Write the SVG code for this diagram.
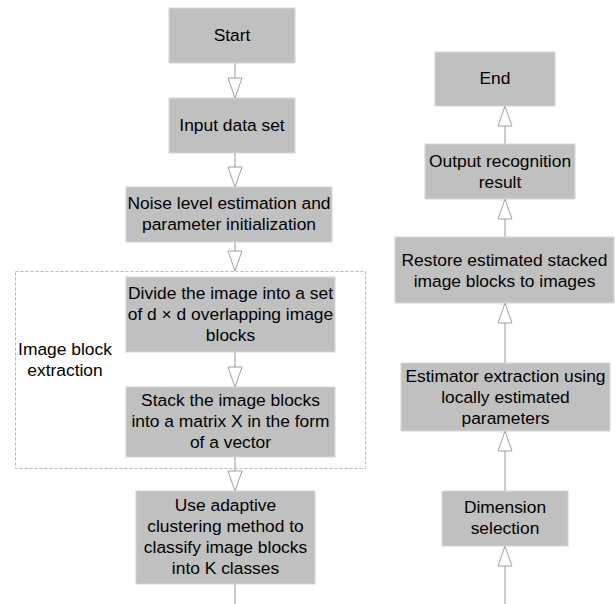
<svg xmlns="http://www.w3.org/2000/svg" width="615" height="604" viewBox="0 0 615 604">
  <style>
    .box { fill: #c0c0c0; stroke: #d6d6d6; stroke-width: 1; }
    .label { font-family: "Liberation Sans", Arial, sans-serif; font-size: 17.4px; fill: #000; text-anchor: middle; }
    .edge { fill: none; stroke: #a8a8a8; stroke-width: 1.2; }
    .group { fill: none; stroke: #b8b8b8; stroke-width: 1; stroke-dasharray: 3 2; }
  </style>
  <defs>
    <marker id="hollow" markerUnits="userSpaceOnUse" markerWidth="24" markerHeight="18" refX="21" refY="8" orient="auto" viewBox="0 0 24 18">
      <path d="M1,1 L21,8 L1,15 Z" fill="#ffffff" stroke="#a0a0a0" stroke-width="1"/>
    </marker>
  </defs>

  <rect id="background" x="0" y="0" width="615" height="604" fill="#ffffff"/>

  <!-- dashed container around the block extraction steps -->
  <g id="image-block-extraction">
    <rect class="group" x="15.5" y="271.5" width="350" height="197"/>
    <text class="label" x="65" y="355">Image block</text>
    <text class="label" x="65" y="376">extraction</text>
  </g>

  <!-- connectors -->
  <g id="connectors">
    <path class="edge" d="M235,63 V98" marker-end="url(#hollow)"/>
    <path class="edge" d="M235,153 V187" marker-end="url(#hollow)"/>
    <path class="edge" d="M235,242 V271" marker-end="url(#hollow)"/>
    <path class="edge" d="M235,352 V387" marker-end="url(#hollow)"/>
    <path class="edge" d="M235,457 V491" marker-end="url(#hollow)"/>
    <path class="edge" d="M235,584 V604"/>

    <path class="edge" d="M505,604 V546" marker-end="url(#hollow)"/>
    <path class="edge" d="M505,491 V431" marker-end="url(#hollow)"/>
    <path class="edge" d="M505,363 V303" marker-end="url(#hollow)"/>
    <path class="edge" d="M505,237 V199" marker-end="url(#hollow)"/>
    <path class="edge" d="M505,144 V106" marker-end="url(#hollow)"/>
  </g>

  <!-- left column -->
  <g id="start">
    <rect class="box" x="169" y="8" width="126" height="55"/>
    <text class="label" x="232" y="41">Start</text>
  </g>
  <g id="input-data-set">
    <rect class="box" x="169" y="98" width="126" height="55"/>
    <text class="label" x="232" y="131">Input data set</text>
  </g>
  <g id="noise-estimation">
    <rect class="box" x="126" y="187" width="206" height="55"/>
    <text class="label" x="229" y="209">Noise level estimation and</text>
    <text class="label" x="229" y="230">parameter initialization</text>
  </g>
  <g id="divide-image">
    <rect class="box" x="126" y="277" width="209" height="75"/>
    <text class="label" x="230.5" y="299">Divide the image into a set</text>
    <text class="label" x="230.5" y="320">of d × d overlapping image</text>
    <text class="label" x="230.5" y="341">blocks</text>
  </g>
  <g id="stack-blocks">
    <rect class="box" x="126" y="387" width="209" height="70"/>
    <text class="label" x="230.5" y="406">Stack the image blocks</text>
    <text class="label" x="230.5" y="427">into a matrix X in the form</text>
    <text class="label" x="230.5" y="448">of a vector</text>
  </g>
  <g id="adaptive-clustering">
    <rect class="box" x="136" y="491" width="179" height="93"/>
    <text class="label" x="225.5" y="511">Use adaptive</text>
    <text class="label" x="225.5" y="532">clustering method to</text>
    <text class="label" x="225.5" y="553">classify image blocks</text>
    <text class="label" x="225.5" y="574">into K classes</text>
  </g>

  <!-- right column -->
  <g id="end">
    <rect class="box" x="435" y="52" width="120" height="54"/>
    <text class="label" x="495" y="84">End</text>
  </g>
  <g id="output-result">
    <rect class="box" x="425" y="144" width="150" height="55"/>
    <text class="label" x="500" y="167">Output recognition</text>
    <text class="label" x="500" y="188">result</text>
  </g>
  <g id="restore-images">
    <rect class="box" x="395" y="237" width="219" height="66"/>
    <text class="label" x="504.5" y="266">Restore estimated stacked</text>
    <text class="label" x="504.5" y="287">image blocks to images</text>
  </g>
  <g id="estimator-extraction">
    <rect class="box" x="401" y="363" width="209" height="68"/>
    <text class="label" x="505.5" y="382">Estimator extraction using</text>
    <text class="label" x="505.5" y="403">locally estimated</text>
    <text class="label" x="505.5" y="424">parameters</text>
  </g>
  <g id="dimension-selection">
    <rect class="box" x="442" y="491" width="126" height="55"/>
    <text class="label" x="505" y="513">Dimension</text>
    <text class="label" x="505" y="534">selection</text>
  </g>
</svg>
